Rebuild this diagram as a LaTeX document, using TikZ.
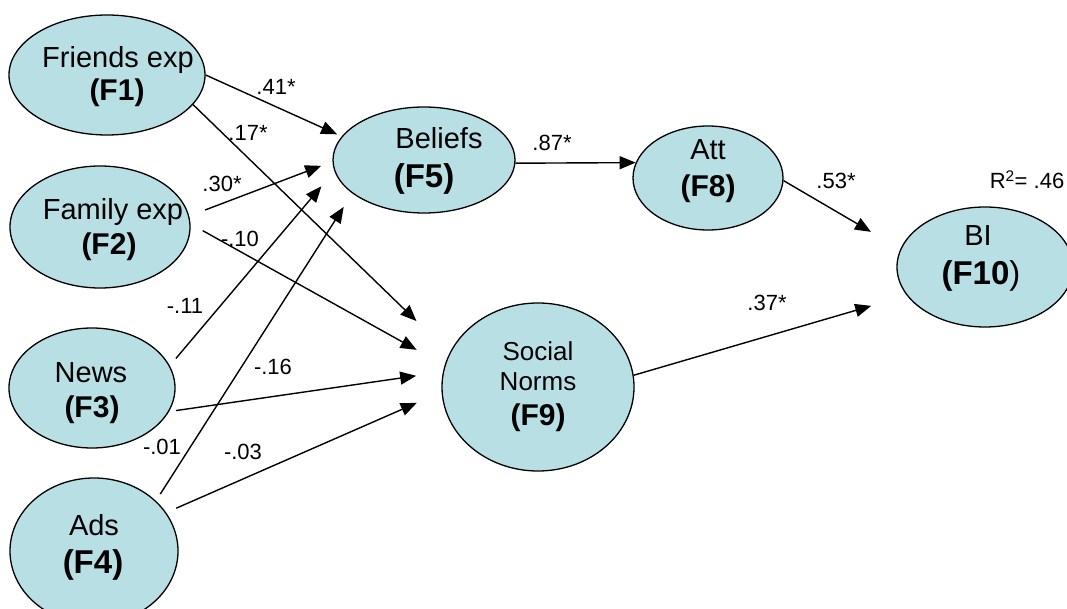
\documentclass[tikz,border=0pt]{standalone}
\usepackage{fontspec}
\setmainfont{Liberation Sans}
\usetikzlibrary{arrows.meta,shapes.geometric}
\definecolor{cfill}{RGB}{184,224,228}
\begin{document}
\begin{tikzpicture}[x=1pt,y=-1pt,
  factor/.style={ellipse,draw=black,line width=1.3pt,fill=cfill,inner sep=0pt},
  txt/.style={anchor=base,inner sep=0pt,font=\fontsize{29}{33}\selectfont},
  smalltxt/.style={anchor=base,inner sep=0pt,font=\fontsize{26}{30}\selectfont},
  bld/.style={anchor=base,inner sep=0pt,font=\fontsize{30}{34}\selectfont\bfseries},
  bigbld/.style={anchor=base,inner sep=0pt,font=\fontsize{33}{36}\selectfont\bfseries},
  coef/.style={anchor=base,inner sep=0pt,font=\fontsize{22}{26}\selectfont},
  arr/.style={line width=1.4pt,-{Triangle[length=16pt,width=13pt]}}]
\useasboundingbox (0,0) rectangle (1067,609);
% factors
\node[factor,minimum width=196pt,minimum height=120pt] (F1) at (107,75) {};
\node[factor,minimum width=180pt,minimum height=122pt] (F2) at (100,227) {};
\node[factor,minimum width=166pt,minimum height=120pt] (F3) at (92,388) {};
\node[factor,minimum width=168pt,minimum height=146pt] (F4) at (94,551) {};
\node[factor,minimum width=182pt,minimum height=106pt] (F5) at (424,160) {};
\node[factor,minimum width=150pt,minimum height=104pt] (F8) at (708,178) {};
\node[factor,minimum width=192pt,minimum height=168pt] (F9) at (538,387) {};
\node[factor,minimum width=176pt,minimum height=120pt] (F10) at (985,267) {};
% texts
\node[txt] (t1a) at (118,68) {Friends exp};
\node[bld] (t1b) at (117,101) {(F1)};
\node[txt] (t2a) at (113,220) {Family exp};
\node[bld] (t2b) at (109,255) {(F2)};
\node[txt] (t3a) at (91,382) {News};
\node[bld] (t3b) at (92,417) {(F3)};
\node[txt] (t4a) at (94,535) {Ads};
\node[bigbld] (t4b) at (93,573) {(F4)};
\node[txt] (t5a) at (439,149) {Beliefs};
\node[bigbld] (t5b) at (424,188) {(F5)};
\node[txt] (t8a) at (708,160) {Att};
\node[bld] (t8b) at (708,197) {(F8)};
\node[smalltxt] (t9a) at (538,360) {Social};
\node[smalltxt] (t9b) at (538,390) {Norms};
\node[bld] (t9c) at (538,425) {(F9)};
\node[txt] (t10a) at (978,246) {BI};
\node[anchor=base,inner sep=0pt,font=\fontsize{33}{36}\selectfont] (t10b) at (981,285) {\textbf{(F10})};
\node[coef] (r2) at (1027,189) {R\textsuperscript{2}= .46};
% paths
\draw[arr,shorten >=5pt] (F1.0) -- (F5.164);
\draw[arr,shorten >=46pt] (F1.-19) -- (F9.159);
\draw[arr,shorten <=17pt,shorten >=12pt] (F2.7) -- (F5.181);
\draw[arr,shorten <=14pt,shorten >=32pt] (F2.2) -- (F9.167);
\draw[arr,shorten <=9.5pt,shorten >=20pt] (F3.16) -- (F5.187);
\draw[arr,shorten <=7pt,shorten >=27pt] (F3.-17) -- (F9.171);
\draw[arr,shorten <=8pt,shorten >=16pt] (F4.39) -- (F5.205);
\draw[arr,shorten <=11pt,shorten >=27pt] (F4.28) -- (F9.183);
\draw[arr] (F5.-2) -- (F8.168);
\draw[arr,shorten >=34pt] (F8.-2) -- (F10.168);
\draw[arr,shorten >=37pt] (F9.7) -- (F10.200);
% coefficients
\node[coef] (c1) at (276,95) {.41*};
\node[coef] (c2) at (248,141) {.17*};
\node[coef] (c3) at (222,192) {.30*};
\node[coef] (c4) at (240,247) {-.10};
\node[coef] (c5) at (185,313) {-.11};
\node[coef] (c6) at (273,374) {-.16};
\node[coef] (c7) at (162,454) {-.01};
\node[coef] (c8) at (243,459) {-.03};
\node[coef] (c9) at (552,151) {.87*};
\node[coef] (c10) at (836,189) {.53*};
\node[coef] (c11) at (767,310) {.37*};
\end{tikzpicture}
\end{document}
